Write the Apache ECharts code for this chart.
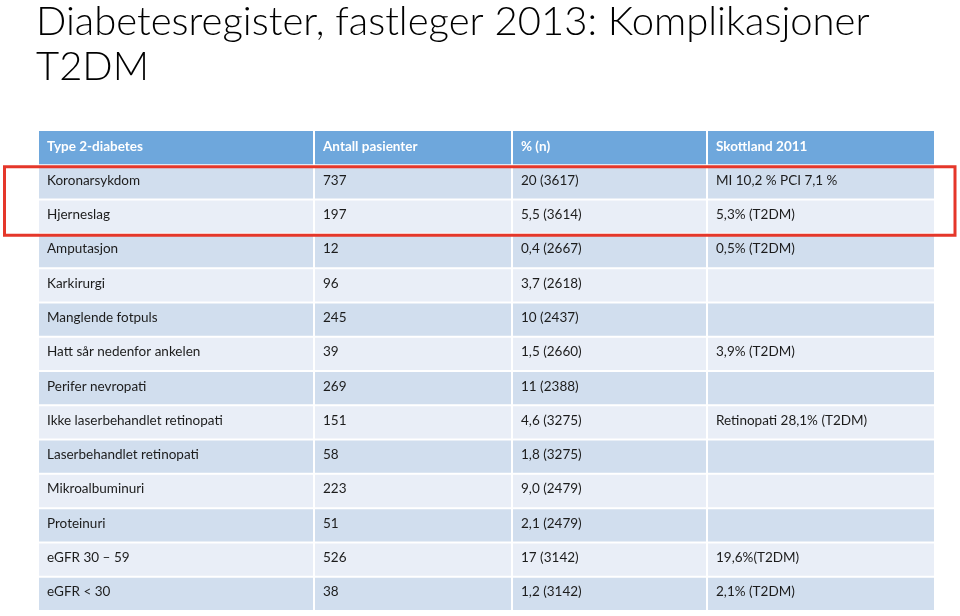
<!DOCTYPE html>
<html><head><meta charset="utf-8">
<script src="https://cdn.jsdelivr.net/npm/echarts@6/dist/echarts.min.js"></script>
<style>html,body{margin:0;padding:0;background:#fff}#c{width:960px;height:616px}</style>
</head><body><div id="c"></div>
<script>
const titleText = "Diabetesregister, fastleger 2013: Komplikasjoner\nT2DM";
const headers = ["Type 2-diabetes", "Antall pasienter", "% (n)", "Skottland 2011"];
const complications = ["Koronarsykdom", "Hjerneslag", "Amputasjon", "Karkirurgi", "Manglende fotpuls",
  "Hatt sår nedenfor ankelen", "Perifer nevropati", "Ikke laserbehandlet retinopati",
  "Laserbehandlet retinopati", "Mikroalbuminuri", "Proteinuri", "eGFR 30 – 59", "eGFR < 30"];
const patientCounts = [737, 197, 12, 96, 245, 39, 269, 151, 58, 223, 51, 526, 38];
const percentN = ["20 (3617)", "5,5 (3614)", "0,4 (2667)", "3,7 (2618)", "10 (2437)", "1,5 (2660)",
  "11 (2388)", "4,6 (3275)", "1,8 (3275)", "9,0 (2479)", "2,1 (2479)", "17 (3142)", "1,2 (3142)"];
const scotland2011 = ["MI 10,2 % PCI 7,1 %", "5,3% (T2DM)", "0,5% (T2DM)", "", "", "3,9% (T2DM)", "",
  "Retinopati 28,1% (T2DM)", "", "", "", "19,6%(T2DM)", "2,1% (T2DM)"];
const highlightedRows = [1, 2];

// layout (column edges in grid px units)
const colEdges = [[0, 274], [276, 472], [474, 667], [669, 895]];

const rowNames = [headers[0]].concat(complications);
const cells = [];
headers.forEach((h, c) => cells.push([0, c, h]));
complications.forEach((name, i) => {
  const r = i + 1;
  cells.push([r, 0, name]);
  cells.push([r, 1, String(patientCounts[i])]);
  cells.push([r, 2, percentN[i]]);
  cells.push([r, 3, scotland2011[i]]);
});

const FONT = 'Lato';
const chart = echarts.init(document.getElementById('c'));
chart.setOption({
  animation: false,
  title: {
    text: titleText, left: 31, top: -5,
    textStyle: { fontFamily: FONT, fontWeight: 300, fontSize: 40, lineHeight: 45, color: '#000' }
  },
  grid: { left: 39, right: 26, top: 131, bottom: 5 },
  xAxis: { type: 'value', min: 0, max: 895, show: false },
  yAxis: { type: 'category', data: rowNames, inverse: true, show: false },
  series: [{
    type: 'custom',
    data: cells,
    encode: { x: 1, y: 0 },
    renderItem: function (params, api) {
      const r = api.value(0), c = api.value(1);
      const txt = cells[params.dataIndex][2];
      const h = api.size([0, 1])[1];
      const p0 = api.coord([colEdges[c][0], r]);
      const p1 = api.coord([colEdges[c][1], r]);
      const top = p0[1] - h / 2;
      const fill = r === 0 ? '#6ea7dc' : (r % 2 === 1 ? '#d1deee' : '#e9eef7');
      return {
        type: 'group',
        children: [
          { type: 'rect', shape: { x: p0[0], y: top + (r === 0 ? 0 : 1), width: p1[0] - p0[0], height: h - (r === 0 ? 1 : 2) }, style: { fill: fill } },
          { type: 'text', x: p0[0] + 8, y: p0[1] - 2, style: {
              text: txt, fill: r === 0 ? '#fff' : '#1c1c1c', fontFamily: FONT,
              fontWeight: r === 0 ? 'bold' : 'normal', fontSize: 13.5, verticalAlign: 'middle', align: 'left' } }
        ]
      };
    }
  }, {
    type: 'custom',
    data: [highlightedRows],
    clip: false,
    renderItem: function (params, api) {
      const r0 = api.value(0), r1 = api.value(1);
      const h = api.size([0, 1])[1];
      const a = api.coord([0, r0]);
      const b = api.coord([0, r1]);
      const top = a[1] - h / 2 + 1.5;
      const bottom = b[1] + h / 2 + 1.5;
      return { type: 'rect', shape: { x: 4.5, y: top, width: 950.5, height: bottom - top },
        style: { fill: 'none', stroke: '#e5372a', lineWidth: 3 } };
    }
  }]
});
</script></body></html>
